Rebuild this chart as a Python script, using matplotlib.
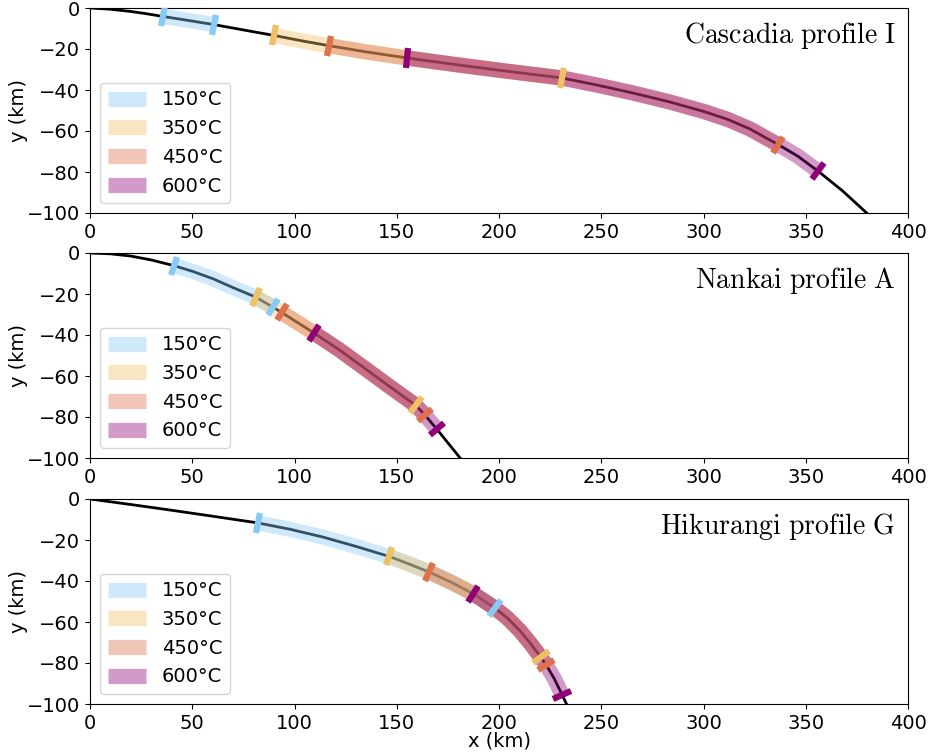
import numpy as np
import matplotlib
matplotlib.use("Agg")
import matplotlib.pyplot as plt
from matplotlib.markers import MarkerStyle
from matplotlib.transforms import Affine2D

plt.rcParams['mathtext.fontset'] = 'cm'
plt.rcParams['font.size'] = 14

temps = [150, 350, 450, 600]
temp_colors = ['#87CAF7', '#F0C064', '#DE704D', '#8E0376']

# slab surface profiles (km)
casc_x = [0, 10, 20, 27, 35.5, 47, 60.6, 75, 90.1, 103, 116.9, 135, 155.2, 178, 200.5, 215, 230.6,
          248, 265.7, 283, 299.9, 312, 322.7, 336.6, 346, 356.2, 368, 379.8]
casc_y = [0, -0.6, -1.7, -2.7, -4.1, -5.9, -8.1, -10.7, -13.4, -15.9, -18.4, -21.4, -24.4, -27.5, -30.4,
          -32.2, -34.1, -37.6, -41.5, -45.7, -50.4, -54.4, -59.0, -66.7, -72.2, -79.7, -89.2, -100]
casc_iso = [[35.5, 60.6], [90.1, 230.6], [116.9, 336.6], [155.2, 356.2]]

nank_x = [0, 10, 20, 30, 41.2, 50, 60, 70, 81.0, 89.6, 93.7, 109.5, 122, 134, 147, 159.3, 163.9, 169.6, 175, 181]
nank_y = [0, -0.4, -1.5, -3.4, -6.2, -8.9, -12.5, -16.9, -21.5, -26.5, -29.0, -39.0, -47.3, -56.0, -65.5,
          -74.3, -79.2, -85.9, -92.6, -100]
nank_iso = [[41.2, 89.6], [81.0, 159.3], [93.7, 163.9], [109.5, 169.6]]

hiku_x = [0, 20, 40, 60, 82.3, 98, 114, 130, 146.2, 156, 165.8, 177, 187.4, 198, 204, 210, 215.5,
          220.4, 223.2, 227, 231, 233]
hiku_y = [0, -2.7, -5.5, -8.4, -11.7, -14.8, -18.6, -23.1, -28.0, -31.7, -35.6, -40.8, -46.2, -53.2,
          -58.0, -64.0, -70.6, -77.1, -81.2, -87.6, -95.8, -100]
hiku_iso = [[82.3, 198], [146.2, 220.4], [165.8, 223.2], [187.4, 231]]

profiles = [
    (casc_x, casc_y, casc_iso, r'$\mathrm{Cascadia\ profile\ I}$'),
    (nank_x, nank_y, nank_iso, r'$\mathrm{Nankai\ profile\ A}$'),
    (hiku_x, hiku_y, hiku_iso, r'$\mathrm{Hikurangi\ profile\ G}$'),
]

fig = plt.figure(figsize=(9.3, 7.52), dpi=100)
W, H = 930, 752
tops = [8, 253, 499]

for k, (px, py, iso, name) in enumerate(profiles):
    ax = fig.add_axes([90 / W, 1 - (tops[k] + 205) / H, 818 / W, 205 / H])
    px = np.array(px)
    py = np.array(py)
    ax.set_xlim(0, 400)
    ax.set_ylim(-100, 0)
    ax.plot(px, py, color='k', lw=2, zorder=2)

    for t, c, (lo, hi) in zip(temps, temp_colors, iso):
        m = (px >= lo) & (px <= hi)
        ax.plot(px[m], py[m], color=c, lw=11, alpha=0.4, solid_capstyle='butt',
                solid_joinstyle='round', label='%d°C' % t, zorder=3)

    # isotherm end ticks, perpendicular to the slab
    for t, c, (lo, hi) in zip(temps, temp_colors, iso):
        for xv in (lo, hi):
            i = int(np.argmin(np.abs(px - xv)))
            a = ax.transData.transform((px[max(i - 1, 0)], py[max(i - 1, 0)]))
            b = ax.transData.transform((px[min(i + 1, len(px) - 1)], py[min(i + 1, len(px) - 1)]))
            ang = np.degrees(np.arctan2(b[1] - a[1], b[0] - a[0]))
            mk = MarkerStyle('|', transform=Affine2D().rotate_deg(ang))
            ax.plot([px[i]], [py[i]], marker=mk, ms=14, mew=4.5, color=c, zorder=4)

    ax.legend(loc='lower left', fontsize=14)
    ax.text(0.985, 0.865, name, transform=ax.transAxes, ha='right', va='center', fontsize=20)
    ax.set_ylabel('y (km)', labelpad=-1)
    if k == 2:
        ax.set_xlabel('x (km)', labelpad=-1)

fig.savefig('out.png', dpi=100)
